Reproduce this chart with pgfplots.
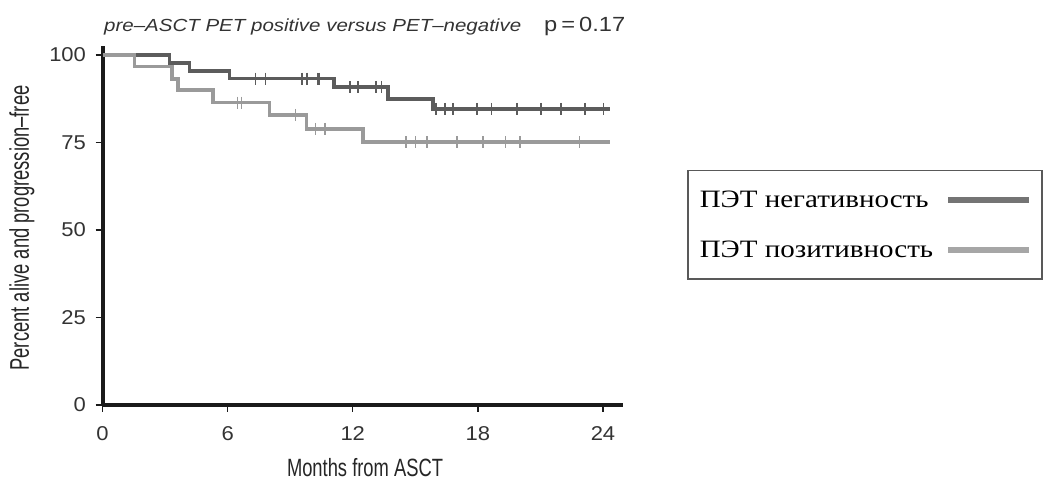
\documentclass[border=0pt]{standalone}
\usepackage{graphicx}
\usepackage{fontspec}
\usepackage{pgfplots}
\pgfplotsset{compat=1.18}
\setmainfont{Liberation Sans}
\newfontfamily\tickfont[FakeStretch=1.1]{Liberation Sans}
\newfontfamily\labfont{Liberation Sans}
\newfontfamily\legfont[FakeStretch=1.16]{Liberation Serif}

\definecolor{negcol}{HTML}{5C5C5C}
\definecolor{poscol}{HTML}{9A9A9A}
\definecolor{negleg}{HTML}{747474}
\definecolor{posleg}{HTML}{A6A6A6}
\definecolor{axcol}{HTML}{1A1A1A}

\begin{document}
\begin{tikzpicture}[x=1pt,y=1pt]
\useasboundingbox (0,0) rectangle (1043,481);
\begin{axis}[
  at={(102.5pt,76pt)}, anchor=south west,
  scale only axis, width=520.5pt, height=359pt,
  xmin=0, xmax=24.96, ymin=0, ymax=102.6,
  axis x line=bottom, axis y line=left,
  axis line style={-, line width=4pt, axcol},
  xtick={0,6,12,18,24}, ytick={0,25,50,75,100},
  tick align=outside, major tick length=7pt,
  tick style={line width=1.5pt, axcol},
  /pgf/number format/assume math mode=true,
  ticklabel style={font=\tickfont\fontsize{20}{20}\selectfont, text=black!80},
  xticklabel style={yshift=-11pt},
  yticklabel style={xshift=-6pt},
  legend plot pos=right,
  legend cell align=left,
  legend image code/.code={\draw[#1, line width=6pt] (0pt,0pt) -- (81pt,0pt);},
  legend style={
    at={(1.1230,0.6546)}, anchor=north west,
    draw=black!65, line width=1.5pt,
    font=\legfont\fontsize{25}{25}\selectfont,
    inner xsep=10pt, inner ysep=18pt,
    row sep=28pt, column sep=10pt,
  },
]
% PET-negative group
\addplot[const plot, negcol, line width=3.5pt,
  legend image post style={negleg}] coordinates {
  (0,100) (3.22,97.8) (4.18,95.4) (6.10,93.3) (11.10,90.9)
  (13.70,87.4) (15.86,84.6) (24.34,84.6)
};
\addlegendentry{ПЭТ негативность}
% PET-positive group
\addplot[const plot, poscol, line width=3.5pt,
  legend image post style={posleg}] coordinates {
  (0,100) (1.54,96.7) (3.33,93.1) (3.61,90.0) (5.30,86.4)
  (8.02,82.9) (9.78,78.9) (12.50,75.1) (24.34,75.1)
};
\addlegendentry{ПЭТ позитивность}
% censored observations
\addplot[only marks, mark=|, mark size=6pt, negcol,
  mark options={line width=1.6pt}, forget plot] coordinates {
  (7.33,93.3) (7.81,93.3) (9.57,93.3) (9.81,93.3) (10.31,93.3) (10.37,93.3)
  (11.86,90.9) (12.26,90.9) (13.11,90.9) (13.38,90.9)
  (15.99,84.6) (16.42,84.6) (16.82,84.6) (17.97,84.6) (18.66,84.6)
  (19.89,84.6) (21.03,84.6) (21.99,84.6) (23.14,84.6) (24.02,84.6)
};
\addplot[only marks, mark=|, mark size=6pt, poscol,
  mark options={line width=1.6pt}, forget plot] coordinates {
  (6.47,86.4) (6.66,86.4) (9.25,82.9) (10.21,78.9) (10.66,78.9)
  (14.55,75.1) (15.01,75.1) (15.57,75.1) (17.01,75.1) (18.26,75.1)
  (19.33,75.1) (20.02,75.1) (22.87,75.1)
};
\end{axis}
% heading
\node[anchor=base west, inner sep=0pt, text=black!80] at (104,449)
  {\resizebox{417pt}{\height}{\labfont\itshape\fontsize{17.5}{17.5}\selectfont pre–ASCT PET positive versus PET–negative}};
\node[anchor=base west, inner sep=0pt, text=black!80] at (544,449)
  {\resizebox{81pt}{\height}{\labfont\fontsize{20.5}{20.5}\selectfont p\,=\,0.17}};
% axis titles
\node[inner sep=0pt, text=black!85] at (365,13)
  {\resizebox{156pt}{\height}{\labfont\fontsize{25}{25}\selectfont Months from ASCT}};
\node[inner sep=0pt, rotate=90, text=black!85] at (22,253)
  {\resizebox{285pt}{\height}{\labfont\fontsize{27}{27}\selectfont Percent alive and progression–free}};
\end{tikzpicture}
\end{document}
